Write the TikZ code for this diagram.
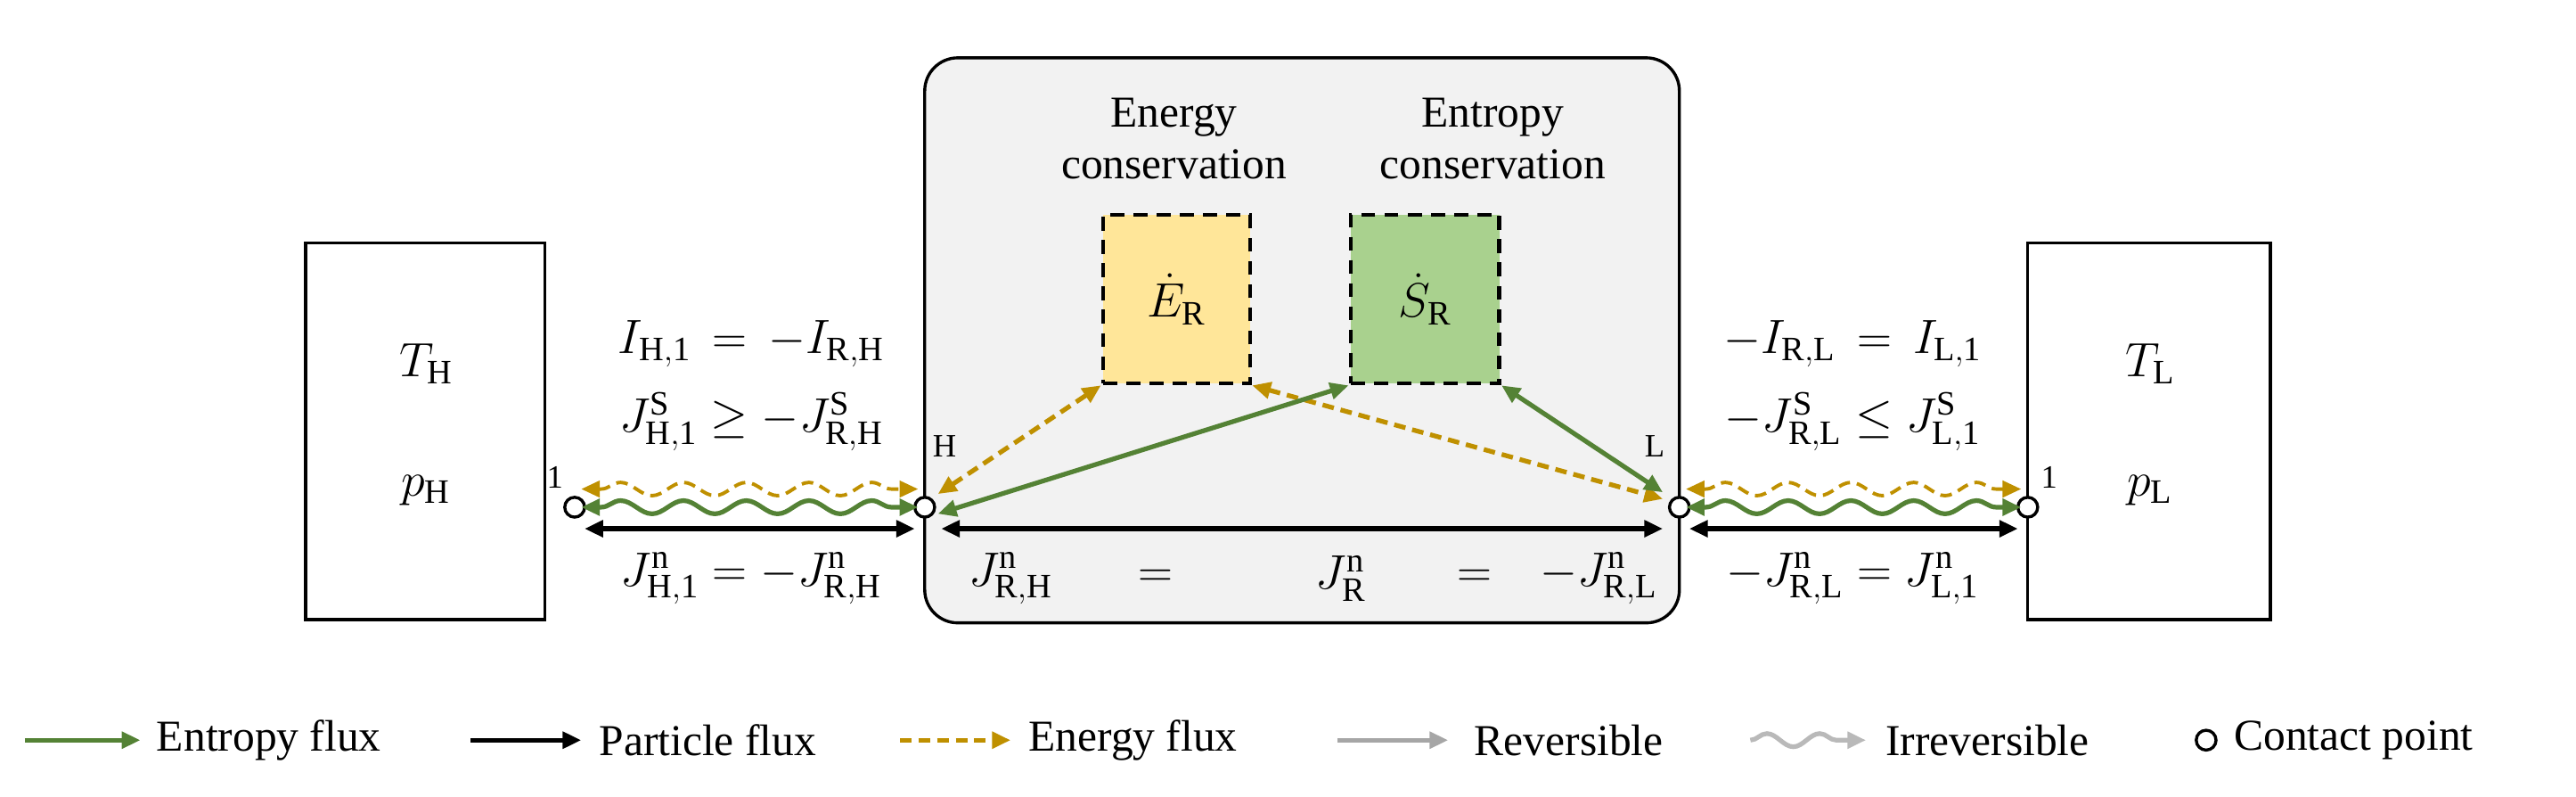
\documentclass[tikz,border=0pt]{standalone}
\usepackage{fontspec}
\setmainfont{Liberation Serif}
\usetikzlibrary{arrows.meta,decorations.pathmorphing}
\definecolor{egreen}{HTML}{548235}
\definecolor{eyel}{HTML}{BF9000}
\definecolor{boxy}{HTML}{FFE699}
\definecolor{boxg}{HTML}{A9D18E}
\begin{document}
\begin{tikzpicture}[x=0.025cm,y=-0.025cm,
  font=\fontsize{19}{22}\selectfont,
  eq/.style={font=\fontsize{21}{24}\selectfont},
  res/.style={draw,line width=1.3pt,fill=white},
  cp/.style={circle,draw,line width=1.3pt,fill=white,inner sep=0pt,minimum size=0.3cm},
  tip/.style={-{Triangle[length=8pt,width=7pt]}},
  both/.style={{Triangle[length=8pt,width=7pt]}-{Triangle[length=8pt,width=7pt]}},
  gflux/.style={both,egreen,line width=2pt},
  yflux/.style={both,eyel,line width=2pt,dashed,dash pattern=on 5pt off 3pt},
  nflux/.style={both,black,line width=2pt},
  wav/.style={decorate,decoration={snake,segment length=0.95cm,amplitude=0.1cm,pre length=0.3cm,post length=0.3cm}},
  lbl/.style={inner sep=0pt}]
\useasboundingbox (0,0) rectangle (1560,482);
% boxes
\node[res,minimum width=145*0.025cm,minimum height=228*0.025cm] (bh) at (257.5,261) {};
\node[res,minimum width=147*0.025cm,minimum height=228*0.025cm] (bl) at (1301.5,261) {};
\draw[line width=1.3pt,fill=gray!10,rounded corners=0.5cm] (560,35) rectangle (1017,377);
\node[draw,dash pattern=on 6pt off 4pt,line width=1.8pt,fill=boxy,minimum width=89*0.025cm,minimum height=102*0.025cm,eq] (E) at (712.5,181) {$\dot E_{\mathrm{R}}$};
\node[draw,dash pattern=on 6pt off 4pt,line width=1.8pt,fill=boxg,minimum width=90*0.025cm,minimum height=102*0.025cm,eq] (S) at (863,181) {$\dot S_{\mathrm{R}}$};
\node[align=center] (ec) at (711,84) {Energy\\conservation};
\node[align=center] (sc) at (904,84) {Entropy\\conservation};
\node[eq] (th) at (258,220) {$T_{\mathrm{H}}$};
\node[eq] (ph) at (258,297) {$p_{\mathrm{H}}$};
\node[eq] (tl) at (1302,220) {$T_{\mathrm{L}}$};
\node[eq] (pl) at (1302,297) {$p_{\mathrm{L}}$};
% contacts
\node[cp] (c1) at (348,307) {};
\node[cp] (cH) at (560,307) {};
\node[cp] (cL) at (1017,307) {};
\node[cp] (c2) at (1228,307) {};
\node[font=\fontsize{14}{16}\selectfont] (n1) at (336,289) {1};
\node[font=\fontsize{14}{16}\selectfont] (n2) at (1241,289) {1};
\node[font=\fontsize{14}{16}\selectfont] (nH) at (572,270) {H};
\node[font=\fontsize{14}{16}\selectfont] (nL) at (1002,270) {L};
\coordinate (a1) at (352,296); \coordinate (a2) at (556,296);
\coordinate (b1) at (1021,296); \coordinate (b2) at (1224,296);
% wavy
\draw[yflux,wav,line width=1.5pt] (a1) -- (a2);
\draw[gflux,wav] ([yshift=-11*0.025cm]a1) -- ([yshift=-11*0.025cm]a2);
\draw[yflux,wav,line width=1.5pt] (b1) -- (b2);
\draw[gflux,wav] ([yshift=-11*0.025cm]b1) -- ([yshift=-11*0.025cm]b2);
% particle
\draw[nflux] (354,320) -- (554,320);
\draw[nflux] (570,320) -- (1007,320);
\draw[nflux] (1023,320) -- (1222,320);
% inner
\draw[yflux] (568,299) -- (E.south west);
\draw[yflux] (E.south east) -- (1007,302);
\draw[gflux] (568,311) -- (S.south west);
\draw[gflux] (S.south east) -- (1007,298);
% equations
\node[eq] (e1) at (455,208) {$I_{\mathrm{H,1}}\,=\,-I_{\mathrm{R,H}}$};
\node[eq] (e2) at (455,255) {$J^{\mathrm{S}}_{\mathrm{H,1}}\geq -J^{\mathrm{S}}_{\mathrm{R,H}}$};
\node[eq] (e3) at (455,350) {$J^{\mathrm{n}}_{\mathrm{H,1}}=-J^{\mathrm{n}}_{\mathrm{R,H}}$};
\node[eq] (f1) at (1122,208) {$-I_{\mathrm{R,L}}\,=\,I_{\mathrm{L,1}}$};
\node[eq] (f2) at (1122,255) {$-J^{\mathrm{S}}_{\mathrm{R,L}}\leq J^{\mathrm{S}}_{\mathrm{L,1}}$};
\node[eq] (f3) at (1122,350) {$-J^{\mathrm{n}}_{\mathrm{R,L}}=J^{\mathrm{n}}_{\mathrm{L,1}}$};
\node[eq] (m1) at (612,350) {$J^{\mathrm{n}}_{\mathrm{R,H}}$};
\node[eq] (m2) at (700,350) {$=$};
\node[eq] (m3) at (812,350) {$J^{\mathrm{n}}_{\mathrm{R}}$};
\node[eq] (m4) at (893,350) {$=$};
\node[eq] (m5) at (968,350) {$-J^{\mathrm{n}}_{\mathrm{R,L}}$};
% legend
\coordinate (l1a) at (15,448); \coordinate (l1b) at (85,448);
\draw[tip,egreen,line width=2pt] (l1a) -- (l1b);
\node[anchor=west] (t1) at (90,448) {Entropy flux};
\coordinate (l2a) at (285,448); \coordinate (l2b) at (352,448);
\draw[tip,black,line width=2pt] (l2a) -- (l2b);
\node[anchor=west] (t2) at (358,448) {Particle flux};
\coordinate (l3a) at (545,448); \coordinate (l3b) at (612,448);
\draw[tip,eyel,line width=2pt,dash pattern=on 5pt off 3pt] (l3a) -- (l3b);
\node[anchor=west] (t3) at (618,448) {Energy flux};
\coordinate (l4a) at (810,448); \coordinate (l4b) at (877,448);
\draw[tip,gray!70,line width=2pt] (l4a) -- (l4b);
\node[anchor=west] (t4) at (888,448) {Reversible};
\coordinate (l5a) at (1060,448); \coordinate (l5b) at (1130,448);
\draw[tip,gray!55,line width=2pt,decorate,decoration={snake,segment length=0.8cm,amplitude=0.1cm,post length=0.3cm}] (l5a) -- (l5b);
\node[anchor=west] (t5) at (1137,448) {Irreversible};
\node[cp] (lc) at (1336,448) {};
\node[anchor=west] (t6) at (1348,448) {Contact point};
\end{tikzpicture}
\end{document}
